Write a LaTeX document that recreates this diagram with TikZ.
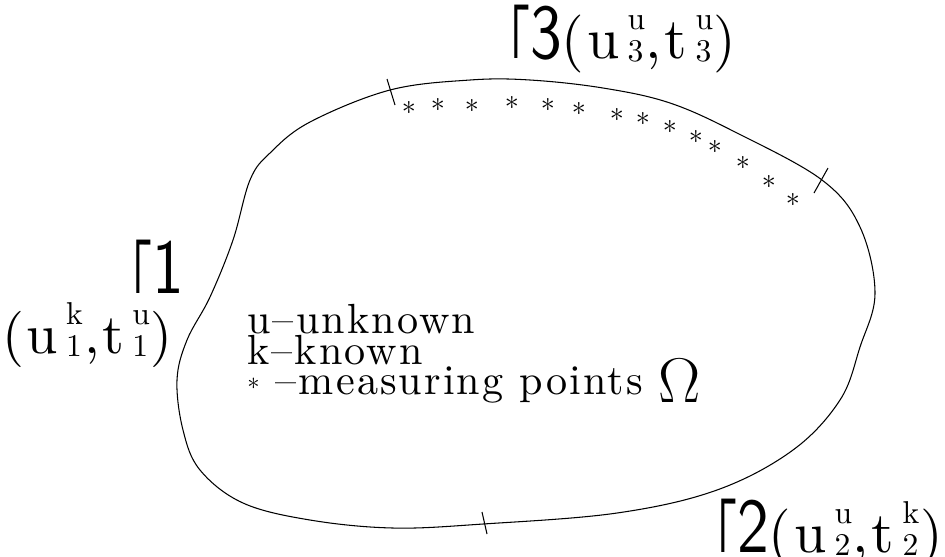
\RequirePackage{fix-cm}
\documentclass[tikz,border=0pt]{standalone}
\usepackage{fontspec}
\usepackage{tikz}
\newfontfamily\plotfont[LetterSpace=5]{lmroman10-regular.otf}
\newfontfamily\gmfont{lmsans10-regular.otf}
\newcommand{\gmlabel}[1]{{\fontsize{44}{44}\selectfont\gmfont\scalebox{0.45}[1]{Γ}\scalebox{0.82}[1]{#1}}}
\newcommand{\sx}[2]{\hspace{0.14em}\rlap{\raisebox{0.5em}{\fontsize{18}{18}\selectfont #1}}\raisebox{-0.06em}{\fontsize{18}{18}\selectfont #2}\hspace{0.04em}}
\begin{document}
\begin{tikzpicture}[x=0.02cm,y=-0.02cm,
bnd/.style={line width=0.6pt},
tick/.style={line width=0.6pt},
meas/.style={inner sep=0pt,font=\fontsize{16}{16}\selectfont},
lab/.style={inner sep=0pt,anchor=base west,font=\plotfont\fontsize{33}{36}\selectfont},
leg/.style={inner sep=0pt,anchor=base west,font=\plotfont\fontsize{24}{26}\selectfont}]
\useasboundingbox (0,0) rectangle (945,556);
\draw[bnd] plot[smooth cycle,tension=0.6] coordinates {(390,90) (470,80) (530,80) (603,88) (670,103) (737,133) (822,180) (860,227) (875,293) (860,347) (840,400) (793,450) (717,490) (617,513) (483,524) (393,528) (310,520) (243,503) (200,470) (183,430) (177,380) (187,340) (210,297) (233,240) (250,180) (270,153) (310,122)};
\draw[tick] (387,79) -- (395,105);
\draw[tick] (828,168) -- (814,193);
\draw[tick] (482,512) -- (487,534);
\foreach \p [count=\i] in {(409,108),(438,105),(472,106),(512,103),(548,105),(579,109),(617,115),(643,119),(670,127),(696,137),(715,147),(743,163),(769,182),(793,200)}
  \node[meas] (m\i) at \p {$\ast$};
\node[lab] (g3) at (511,58) {\gmlabel{3}(u\sx{u}{3},t\sx{u}{3})};
\node[lab] (g1) at (133,293) {\gmlabel{1}};
\node[lab,font=\plotfont\fontsize{32}{36}\selectfont] (ut1) at (2,353) {(u\sx{k}{1},t\sx{u}{1})};
\node[lab] (g2) at (718,552) {\gmlabel{2}(u\sx{u}{2},t\sx{k}{2})};
\node[leg] (l1) at (247,333) {u–unknown};
\node[leg] (l2) at (247,364) {k–known};
\node[leg] (l3) at (247,394) {\raisebox{0.1em}{\fontsize{14}{14}\selectfont$\ast$} –measuring points};
\node[inner sep=0pt,font=\fontsize{36}{36}\selectfont] (om) at (680,381) {$\Omega$};
\end{tikzpicture}
\end{document}
